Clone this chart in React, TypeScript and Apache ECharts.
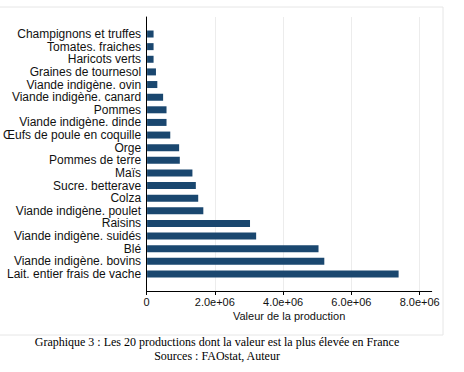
import React, { useEffect, useRef } from "react";
import * as echarts from "echarts";

const categories = [
  "Champignons et truffes",
  "Tomates. fraiches",
  "Haricots verts",
  "Graines de tournesol",
  "Viande indigène. ovin",
  "Viande indigène. canard",
  "Pommes",
  "Viande indigène. dinde",
  "Œufs de poule en coquille",
  "Orge",
  "Pommes de terre",
  "Maïs",
  "Sucre. betterave",
  "Colza",
  "Viande indigène. poulet",
  "Raisins",
  "Viande indigène. suidés",
  "Blé",
  "Viande indigène. bovins",
  "Lait. entier frais de vache",
];

const values = [
  190000, 190000, 190000, 260000, 300000, 470000, 570000, 570000, 680000,
  940000, 960000, 1330000, 1430000, 1500000, 1650000, 3020000, 3200000,
  5030000, 5200000, 7380000,
];

const xTicks = [0, 2000000, 4000000, 6000000, 8000000];
const axisTitle = "Valeur de la production";
const captionLine1 =
  "Graphique 3 : Les 20 productions dont la valeur est la plus élevée en France";
const captionLine2 = "Sources : FAOstat, Auteur";

const fmt = (v: number) =>
  v === 0 ? "0" : (v / 1e6).toFixed(1) + "e+06";

export default function App() {
  const ref = useRef<HTMLDivElement>(null);
  useEffect(() => {
    if (!ref.current) return;
    const chart = echarts.init(ref.current, undefined, { renderer: "svg" });
    const tickMax = xTicks[xTicks.length - 1];
    const lineMax = 8351000;
    const font = "'Liberation Sans', Arial, Helvetica, sans-serif";
    const serif = "'Liberation Serif', 'Times New Roman', serif";
    chart.setOption({
      animation: false,
      backgroundColor: "#ffffff",
      grid: [
        { left: 146.5, right: 32.3, top: 27.7, bottom: 91.7 },
        { left: 146.5, right: 32.3, top: 17, bottom: 81 },
        { left: 146.5, right: 44.3, top: 17, bottom: 81 },
      ],
      xAxis: [
        {
          gridIndex: 0,
          type: "value",
          min: 0,
          max: lineMax,
          show: false,
        },
        {
          gridIndex: 1,
          type: "value",
          min: 0,
          max: lineMax,
          axisLine: { show: true, lineStyle: { color: "#000", width: 1 } },
          axisTick: { show: false },
          axisLabel: { show: false },
          splitLine: { show: false },
          name: axisTitle,
          nameLocation: "middle",
          nameGap: 19,
          nameTextStyle: { fontFamily: font, fontSize: 11, color: "#111" },
        },
        {
          gridIndex: 2,
          type: "value",
          min: 0,
          max: tickMax,
          interval: 2000000,
          axisLine: { show: false },
          axisTick: {
            show: true,
            length: 4,
            lineStyle: { color: "#000", width: 1 },
          },
          axisLabel: {
            show: true,
            formatter: (v: number) => fmt(v),
            fontFamily: font,
            fontSize: 11,
            color: "#111",
            margin: 5,
          },
          splitLine: {
            show: true,
            lineStyle: { color: "#ececec", width: 1 },
          },
        },
      ],
      yAxis: [
        {
          gridIndex: 0,
          type: "category",
          data: categories,
          inverse: true,
          axisLine: { show: false },
          axisTick: { show: false },
          axisLabel: {
            interval: 0,
            fontFamily: font,
            fontSize: 12,
            color: "#111",
            margin: 6,
          },
        },
        {
          gridIndex: 1,
          type: "value",
          min: 0,
          max: 1,
          axisLine: { show: true, lineStyle: { color: "#000", width: 1 } },
          axisTick: { show: false },
          axisLabel: { show: false },
          splitLine: { show: false },
        },
        {
          gridIndex: 2,
          type: "value",
          min: 0,
          max: 1,
          show: false,
          splitLine: { show: false },
        },
      ],
      series: [
        {
          type: "bar",
          xAxisIndex: 0,
          yAxisIndex: 0,
          data: values,
          barWidth: 7,
          itemStyle: { color: "#1a476f" },
          z: 3,
        },
      ],
      graphic: [
        {
          type: "rect",
          shape: { x: -1, y: 7, width: 444, height: 328 },
          style: { fill: "none", stroke: "#e6e6e6", lineWidth: 1 },
          z: -1,
          silent: true,
        },
        {
          type: "text",
          x: 217,
          y: 342,
          style: {
            text: captionLine1,
            fontFamily: serif,
            fontSize: 12,
            fill: "#000",
            textAlign: "center",
            textVerticalAlign: "middle",
          },
        },
        {
          type: "text",
          x: 217,
          y: 355.5,
          style: {
            text: captionLine2,
            fontFamily: serif,
            fontSize: 12,
            fill: "#000",
            textAlign: "center",
            textVerticalAlign: "middle",
          },
        },
      ],
    });
    return () => chart.dispose();
  }, []);
  return (
    <div
      ref={ref}
      style={{ position: "fixed", left: 0, top: 0, width: 464, height: 372 }}
    />
  );
}
